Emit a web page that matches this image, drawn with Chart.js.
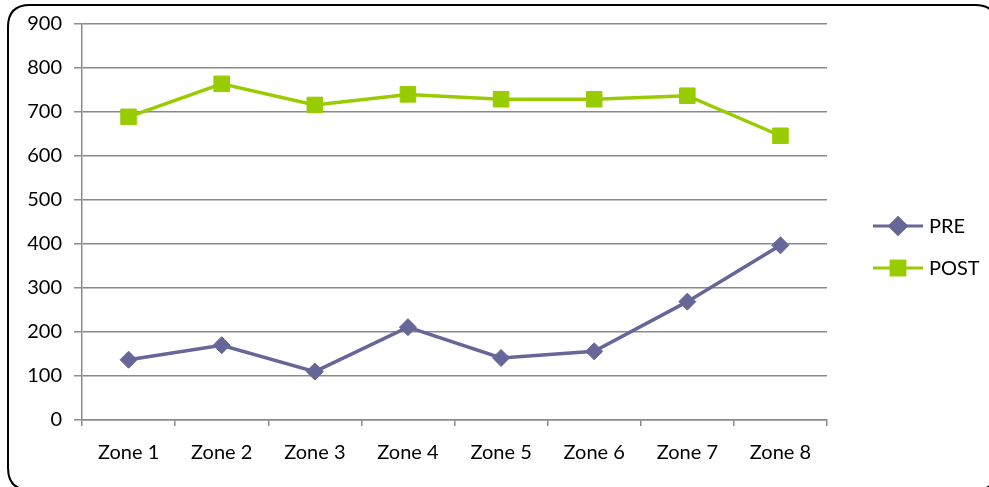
<!DOCTYPE html>
<html>
<head>
<meta charset="utf-8">
<script src="https://cdn.jsdelivr.net/npm/chart.js@4/dist/chart.umd.min.js"></script>
<style>
  html, body { margin: 0; padding: 0; background: #ffffff; }
  #wrap { position: relative; width: 989px; height: 487px; }
</style>
</head>
<body>
<div id="wrap"><canvas id="chart" width="989" height="487"></canvas></div>
<script>
// Zone measurements before and after
const zones = ['Zone 1', 'Zone 2', 'Zone 3', 'Zone 4', 'Zone 5', 'Zone 6', 'Zone 7', 'Zone 8'];
const preValues = [137, 170, 110, 211, 141, 156, 269, 397];
const postValues = [689, 764, 716, 740, 729, 729, 737, 646];
const yTicks = [0, 100, 200, 300, 400, 500, 600, 700, 800, 900];

const PRE_COLOR = '#666699';
const POST_COLOR = '#99CC00';
const GRID_COLOR = '#8a8a8a';
const FONT = { family: 'Lato, "Liberation Sans", sans-serif', size: 20 };

// Rounded frame around the whole chart
const framePlugin = {
  id: 'frame',
  beforeDraw(chart) {
    const ctx = chart.ctx;
    const x = 8, y = 5, w = 989, h = 485, r = 22;
    ctx.save();
    ctx.fillStyle = '#ffffff';
    ctx.fillRect(0, 0, chart.width, chart.height);
    ctx.beginPath();
    ctx.moveTo(x + r, y);
    ctx.lineTo(x + w - r, y);
    ctx.quadraticCurveTo(x + w, y, x + w, y + r);
    ctx.lineTo(x + w, y + h - r);
    ctx.quadraticCurveTo(x + w, y + h, x + w - r, y + h);
    ctx.lineTo(x + r, y + h);
    ctx.quadraticCurveTo(x, y + h, x, y + h - r);
    ctx.lineTo(x, y + r);
    ctx.quadraticCurveTo(x, y, x + r, y);
    ctx.closePath();
    ctx.lineWidth = 2;
    ctx.strokeStyle = '#000000';
    ctx.stroke();
    ctx.restore();
  }
};

// Legend on the right: line sample with marker, then label
const sideLegend = {
  id: 'sideLegend',
  afterDraw(chart) {
    const ctx = chart.ctx;
    const rows = [{ y: 226 }, { y: 268 }];
    chart.data.datasets.forEach((ds, i) => {
      const cy = rows[i].y;
      const x0 = 873, x1 = 923, cx = 898;
      ctx.save();
      ctx.strokeStyle = ds.borderColor;
      ctx.lineWidth = 3;
      ctx.beginPath();
      ctx.moveTo(x0, cy);
      ctx.lineTo(x1, cy);
      ctx.stroke();
      Chart.helpers.drawPoint(ctx, {
        pointStyle: ds.pointStyle,
        radius: ds.pointStyle === 'rect' ? 9.5 : 8,
        borderWidth: 1,
        rotation: 0
      }, cx, cy);
      ctx.fillStyle = ds.pointBackgroundColor;
      ctx.strokeStyle = ds.pointBorderColor;
      ctx.fill();
      ctx.stroke();
      ctx.fillStyle = '#000000';
      ctx.font = `${FONT.size}px ${FONT.family}`;
      ctx.textBaseline = 'middle';
      ctx.textAlign = 'left';
      ctx.fillText(ds.label, 929, cy + 1);
      ctx.restore();
    });
  }
};

new Chart(document.getElementById('chart'), {
  type: 'line',
  data: {
    labels: zones,
    datasets: [
      {
        label: 'PRE',
        data: preValues,
        borderColor: PRE_COLOR,
        backgroundColor: PRE_COLOR,
        borderWidth: 3.5,
        pointStyle: 'rectRot',
        pointRadius: 8.5,
        pointBorderWidth: 1,
        pointBackgroundColor: PRE_COLOR,
        pointBorderColor: PRE_COLOR,
        tension: 0
      },
      {
        label: 'POST',
        data: postValues,
        borderColor: POST_COLOR,
        backgroundColor: POST_COLOR,
        borderWidth: 3.5,
        pointStyle: 'rect',
        pointRadius: 11,
        pointBorderWidth: 1,
        pointBackgroundColor: POST_COLOR,
        pointBorderColor: POST_COLOR,
        tension: 0
      }
    ]
  },
  options: {
    responsive: false,
    animation: false,
    devicePixelRatio: 1,
    layout: { padding: { top: 22, left: 0, right: 162, bottom: 0 } },
    plugins: {
      legend: { display: false },
      tooltip: { enabled: false }
    },
    scales: {
      x: {
        type: 'category',
        offset: true,
        afterFit(scale) { scale.height = 67; },
        grid: {
          offset: true,
          drawOnChartArea: false,
          drawTicks: true,
          tickLength: 6,
          color: GRID_COLOR,
          lineWidth: 1.5
        },
        border: { display: true, color: GRID_COLOR, width: 1.5 },
        ticks: {
          color: '#000000',
          font: FONT,
          padding: 15,
          maxRotation: 0,
          autoSkip: false
        }
      },
      y: {
        min: 0,
        max: 900,
        afterFit(scale) { scale.width = 82; },
        afterBuildTicks(scale) { scale.ticks = yTicks.map(v => ({ value: v })); },
        grid: {
          color: GRID_COLOR,
          lineWidth: 1.5,
          drawTicks: true,
          tickLength: 8
        },
        border: { display: true, color: GRID_COLOR, width: 1.5 },
        ticks: {
          color: '#000000',
          font: FONT,
          padding: 12
        }
      }
    }
  },
  plugins: [framePlugin, sideLegend]
});
</script>
</body>
</html>
